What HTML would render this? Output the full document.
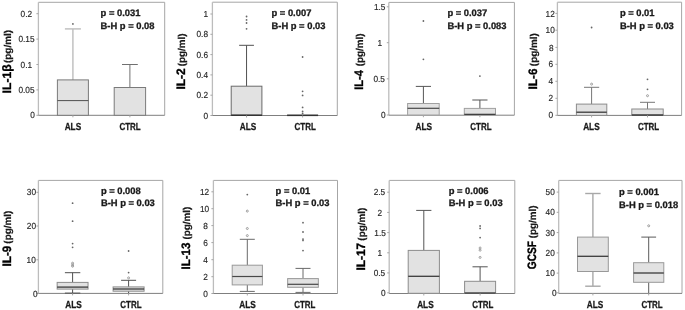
<!DOCTYPE html>
<html><head><meta charset="utf-8"><style>
html,body{margin:0;padding:0;background:#fff;-webkit-font-smoothing:antialiased;}
body{width:685px;height:310px;overflow:hidden;}
svg{display:block;filter:grayscale(1) blur(0.3px);}
text{font-family:"Liberation Sans",sans-serif;fill:#1a1a1a;text-rendering:geometricPrecision;}
.tk{font-size:8.8px;fill:#262626;stroke:#262626;stroke-width:0.15px;}
.pv{font-size:9.4px;font-weight:bold;stroke:#1a1a1a;stroke-width:0.3px;}
.cat{font-size:10.2px;font-weight:bold;stroke:#1a1a1a;stroke-width:0.3px;}
.t1{font-size:12.2px;font-weight:bold;stroke:#000;stroke-width:0.35px;fill:#000;}
.t2{font-size:9.9px;font-weight:bold;stroke:#000;stroke-width:0.18px;}
</style></head><body>
<svg width="685" height="310" viewBox="0 0 685 310">
<rect width="685" height="310" fill="#fff"/>
<g><line x1="38.4" y1="2.3" x2="164.7" y2="2.3" stroke="#a6a6a6" stroke-width="1"/><line x1="164.7" y1="2.3" x2="164.7" y2="115.3" stroke="#a6a6a6" stroke-width="1"/><line x1="38.4" y1="2.3" x2="38.4" y2="115.3" stroke="#bcbcbc" stroke-width="1.3"/><line x1="36.4" y1="115.3" x2="38.4" y2="115.3" stroke="#a6a6a6" stroke-width="1"/><text transform="translate(30.2,118.45) scale(0.94,1)" class="tk">0</text><line x1="36.4" y1="89.9" x2="38.4" y2="89.9" stroke="#a6a6a6" stroke-width="1"/><text transform="translate(18.4,93.05) scale(0.94,1)" class="tk">0.05</text><line x1="36.4" y1="64.5" x2="38.4" y2="64.5" stroke="#a6a6a6" stroke-width="1"/><text transform="translate(20.6,67.65) scale(0.94,1)" class="tk">0.1</text><line x1="36.4" y1="39.1" x2="38.4" y2="39.1" stroke="#a6a6a6" stroke-width="1"/><text transform="translate(18.4,42.25) scale(0.94,1)" class="tk">0.15</text><line x1="36.4" y1="13.7" x2="38.4" y2="13.7" stroke="#a6a6a6" stroke-width="1"/><text transform="translate(20.6,16.85) scale(0.94,1)" class="tk">0.2</text><line x1="38.4" y1="115.3" x2="164.7" y2="115.3" stroke="#7f7f7f" stroke-width="1"/><line x1="72.9" y1="28.9" x2="72.9" y2="79.9" stroke="#bdbdbd" stroke-width="1.4"/><line x1="64.9" y1="28.9" x2="80.9" y2="28.9" stroke="#bdbdbd" stroke-width="1.4"/><rect x="57.4" y="79.9" width="31" height="35.4" fill="#e2e2e2" stroke="#7a7a7a" stroke-width="1"/><line x1="57.4" y1="100.6" x2="88.4" y2="100.6" stroke="#505050" stroke-width="1.0"/><circle cx="72.9" cy="23.9" r="0.9" fill="#666"/><line x1="72.9" y1="115.3" x2="72.9" y2="117.3" stroke="#a6a6a6" stroke-width="1"/><line x1="129.9" y1="64.5" x2="129.9" y2="87.5" stroke="#707070" stroke-width="1.0"/><line x1="122" y1="64.5" x2="137.8" y2="64.5" stroke="#707070" stroke-width="1.0"/><rect x="114.2" y="87.5" width="31.4" height="27.8" fill="#e2e2e2" stroke="#7a7a7a" stroke-width="1"/><line x1="129.9" y1="115.3" x2="129.9" y2="117.3" stroke="#a6a6a6" stroke-width="1"/><text transform="translate(72.9,130.25) scale(0.81,1)" class="cat" text-anchor="middle">ALS</text><text transform="translate(130,130.25) scale(0.78,1)" class="cat" text-anchor="middle">CTRL</text><text x="100.6" y="15.8" class="pv">p = 0.031</text><text x="100.6" y="28.8" class="pv">B-H p = 0.08</text><text transform="translate(11.2,93.44) rotate(-90) scale(1.0,1)" class="t1">IL-1β</text><text transform="translate(11.2,62.95) rotate(-90)" class="t2">(pg/ml)</text></g>
<g><line x1="212.4" y1="2.2" x2="337.3" y2="2.2" stroke="#a6a6a6" stroke-width="1"/><line x1="337.3" y1="2.2" x2="337.3" y2="115.5" stroke="#a6a6a6" stroke-width="1"/><line x1="212.4" y1="2.2" x2="212.4" y2="115.5" stroke="#bcbcbc" stroke-width="1.3"/><line x1="210.4" y1="115.5" x2="212.4" y2="115.5" stroke="#a6a6a6" stroke-width="1"/><text transform="translate(208,118.65) scale(0.94,1)" class="tk" text-anchor="end">0</text><line x1="210.4" y1="95.2" x2="212.4" y2="95.2" stroke="#a6a6a6" stroke-width="1"/><text transform="translate(208,98.35) scale(0.94,1)" class="tk" text-anchor="end">0.2</text><line x1="210.4" y1="74.9" x2="212.4" y2="74.9" stroke="#a6a6a6" stroke-width="1"/><text transform="translate(208,78.05) scale(0.94,1)" class="tk" text-anchor="end">0.4</text><line x1="210.4" y1="54.6" x2="212.4" y2="54.6" stroke="#a6a6a6" stroke-width="1"/><text transform="translate(208,57.75) scale(0.94,1)" class="tk" text-anchor="end">0.6</text><line x1="210.4" y1="34.3" x2="212.4" y2="34.3" stroke="#a6a6a6" stroke-width="1"/><text transform="translate(208,37.45) scale(0.94,1)" class="tk" text-anchor="end">0.8</text><line x1="210.4" y1="14" x2="212.4" y2="14" stroke="#a6a6a6" stroke-width="1"/><text transform="translate(208,17.15) scale(0.94,1)" class="tk" text-anchor="end">1</text><line x1="212.4" y1="115.5" x2="337.3" y2="115.5" stroke="#7f7f7f" stroke-width="1"/><line x1="246.55" y1="45.3" x2="246.55" y2="86.2" stroke="#505050" stroke-width="1.0"/><line x1="239.15" y1="45.3" x2="253.95" y2="45.3" stroke="#505050" stroke-width="1.0"/><rect x="231.2" y="86.2" width="30.7" height="29.3" fill="#e2e2e2" stroke="#6a6a6a" stroke-width="1"/><line x1="231.2" y1="115.2" x2="261.9" y2="115.2" stroke="#333" stroke-width="1.6"/><circle cx="246.55" cy="16.5" r="0.9" fill="#666"/><circle cx="246.55" cy="19.9" r="0.9" fill="#666"/><circle cx="246.55" cy="23" r="0.9" fill="#666"/><circle cx="246.55" cy="28.8" r="0.9" fill="#666"/><line x1="246.55" y1="115.5" x2="246.55" y2="117.5" stroke="#a6a6a6" stroke-width="1"/><line x1="287.1" y1="115.3" x2="318.1" y2="115.3" stroke="#333" stroke-width="1.6"/><circle cx="302.6" cy="57" r="0.9" fill="#666"/><circle cx="302.6" cy="91.3" r="0.9" fill="#666"/><circle cx="302.6" cy="95.4" r="0.9" fill="#666"/><circle cx="302.6" cy="107.4" r="0.9" fill="#666"/><circle cx="302.6" cy="111.4" r="0.9" fill="#666"/><circle cx="302.6" cy="113.4" r="0.9" fill="#666"/><line x1="302.6" y1="115.5" x2="302.6" y2="117.5" stroke="#a6a6a6" stroke-width="1"/><text transform="translate(248.1,130.25) scale(0.81,1)" class="cat" text-anchor="middle">ALS</text><text transform="translate(305.2,130.25) scale(0.78,1)" class="cat" text-anchor="middle">CTRL</text><text x="271.5" y="15.8" class="pv">p = 0.007</text><text x="271.5" y="28.5" class="pv">B-H p = 0.03</text><text transform="translate(184.9,89.52) rotate(-90) scale(0.979,1)" class="t1">IL-2</text><text transform="translate(184.9,66.34) rotate(-90)" class="t2">(pg/ml)</text></g>
<g><line x1="388.8" y1="2.4" x2="514.4" y2="2.4" stroke="#a6a6a6" stroke-width="1"/><line x1="514.4" y1="2.4" x2="514.4" y2="115.2" stroke="#a6a6a6" stroke-width="1"/><line x1="388.8" y1="2.4" x2="388.8" y2="115.2" stroke="#bcbcbc" stroke-width="1.3"/><line x1="386.8" y1="115" x2="388.8" y2="115" stroke="#a6a6a6" stroke-width="1"/><text transform="translate(381.1,118.15) scale(0.94,1)" class="tk">0</text><line x1="386.8" y1="78.8" x2="388.8" y2="78.8" stroke="#a6a6a6" stroke-width="1"/><text transform="translate(373.4,81.95) scale(0.94,1)" class="tk">0.5</text><line x1="386.8" y1="42.7" x2="388.8" y2="42.7" stroke="#a6a6a6" stroke-width="1"/><text transform="translate(377.6,45.85) scale(0.94,1)" class="tk">1</text><line x1="386.8" y1="6.8" x2="388.8" y2="6.8" stroke="#a6a6a6" stroke-width="1"/><text transform="translate(373.9,9.95) scale(0.94,1)" class="tk">1.5</text><line x1="388.8" y1="115.2" x2="514.4" y2="115.2" stroke="#7f7f7f" stroke-width="1"/><line x1="423.4" y1="86.4" x2="423.4" y2="103.5" stroke="#555555" stroke-width="1.0"/><line x1="415.8" y1="86.4" x2="431" y2="86.4" stroke="#555555" stroke-width="1.0"/><rect x="407.6" y="103.5" width="31.6" height="11.5" fill="#e2e2e2" stroke="#a0a0a0" stroke-width="1"/><line x1="407.6" y1="108.3" x2="439.2" y2="108.3" stroke="#2a2a2a" stroke-width="1.1"/><circle cx="423.4" cy="59.3" r="0.9" fill="#666"/><circle cx="423.4" cy="21" r="0.9" fill="#666"/><line x1="423.4" y1="115.2" x2="423.4" y2="117.2" stroke="#a6a6a6" stroke-width="1"/><line x1="479.9" y1="100" x2="479.9" y2="108.4" stroke="#555555" stroke-width="1.0"/><line x1="472.3" y1="100" x2="487.5" y2="100" stroke="#555555" stroke-width="1.0"/><rect x="464.3" y="108.4" width="31.2" height="6.6" fill="#e2e2e2" stroke="#a0a0a0" stroke-width="1"/><line x1="464.3" y1="114.3" x2="495.5" y2="114.3" stroke="#2a2a2a" stroke-width="1.1"/><circle cx="479.9" cy="76.1" r="0.9" fill="#666"/><line x1="479.9" y1="115.2" x2="479.9" y2="117.2" stroke="#a6a6a6" stroke-width="1"/><text transform="translate(423.7,130.25) scale(0.81,1)" class="cat" text-anchor="middle">ALS</text><text transform="translate(480.9,130.25) scale(0.78,1)" class="cat" text-anchor="middle">CTRL</text><text x="447.4" y="15.8" class="pv">p = 0.037</text><text x="447.4" y="28.5" class="pv">B-H p = 0.083</text><text transform="translate(363,89.77) rotate(-90) scale(0.911,1)" class="t1">IL-4</text><text transform="translate(363,66.35) rotate(-90)" class="t2">(pg/ml)</text></g>
<g><line x1="557.4" y1="2.2" x2="681.6" y2="2.2" stroke="#a6a6a6" stroke-width="1"/><line x1="681.6" y1="2.2" x2="681.6" y2="115.4" stroke="#a6a6a6" stroke-width="1"/><line x1="557.4" y1="2.2" x2="557.4" y2="115.4" stroke="#bcbcbc" stroke-width="1.3"/><line x1="555.4" y1="115.3" x2="557.4" y2="115.3" stroke="#a6a6a6" stroke-width="1"/><text transform="translate(548.6,118.45) scale(0.94,1)" class="tk">0</text><line x1="555.4" y1="98.3" x2="557.4" y2="98.3" stroke="#a6a6a6" stroke-width="1"/><text transform="translate(548.6,101.45) scale(0.94,1)" class="tk">2</text><line x1="555.4" y1="81.3" x2="557.4" y2="81.3" stroke="#a6a6a6" stroke-width="1"/><text transform="translate(548.6,84.45) scale(0.94,1)" class="tk">4</text><line x1="555.4" y1="64.3" x2="557.4" y2="64.3" stroke="#a6a6a6" stroke-width="1"/><text transform="translate(548.6,67.45) scale(0.94,1)" class="tk">6</text><line x1="555.4" y1="47.4" x2="557.4" y2="47.4" stroke="#a6a6a6" stroke-width="1"/><text transform="translate(548.9,50.55) scale(0.94,1)" class="tk">8</text><line x1="555.4" y1="30.2" x2="557.4" y2="30.2" stroke="#a6a6a6" stroke-width="1"/><text transform="translate(545.6,33.35) scale(0.94,1)" class="tk">10</text><line x1="555.4" y1="13.4" x2="557.4" y2="13.4" stroke="#a6a6a6" stroke-width="1"/><text transform="translate(545.6,16.55) scale(0.94,1)" class="tk">12</text><line x1="557.4" y1="115.4" x2="681.6" y2="115.4" stroke="#7f7f7f" stroke-width="1"/><line x1="591.6" y1="87.3" x2="591.6" y2="104.1" stroke="#777777" stroke-width="1.0"/><line x1="584" y1="87.3" x2="599.2" y2="87.3" stroke="#777777" stroke-width="1.0"/><rect x="576.4" y="104.1" width="30.4" height="11.3" fill="#e2e2e2" stroke="#8c8c8c" stroke-width="1"/><line x1="576.4" y1="112.2" x2="606.8" y2="112.2" stroke="#3a3a3a" stroke-width="1.3"/><circle cx="591.6" cy="84.1" r="1.0" fill="none" stroke="#8f8f8f" stroke-width="0.85"/><circle cx="591.6" cy="27.5" r="0.9" fill="#666"/><line x1="591.6" y1="115.4" x2="591.6" y2="117.4" stroke="#a6a6a6" stroke-width="1"/><line x1="647.5" y1="102.3" x2="647.5" y2="109" stroke="#777777" stroke-width="1.0"/><line x1="640" y1="102.3" x2="655" y2="102.3" stroke="#777777" stroke-width="1.0"/><rect x="631.8" y="109" width="31.4" height="6.4" fill="#e2e2e2" stroke="#8c8c8c" stroke-width="1"/><line x1="631.8" y1="115" x2="663.2" y2="115" stroke="#3a3a3a" stroke-width="1.3"/><circle cx="647.5" cy="95.7" r="1.0" fill="none" stroke="#8f8f8f" stroke-width="0.85"/><circle cx="647.5" cy="89.3" r="0.9" fill="#666"/><circle cx="647.5" cy="79.3" r="0.9" fill="#666"/><line x1="647.5" y1="115.4" x2="647.5" y2="117.4" stroke="#a6a6a6" stroke-width="1"/><text transform="translate(591.4,130.25) scale(0.81,1)" class="cat" text-anchor="middle">ALS</text><text transform="translate(648.6,130.25) scale(0.78,1)" class="cat" text-anchor="middle">CTRL</text><text x="619.9" y="15.8" class="pv">p = 0.01</text><text x="619.9" y="28.5" class="pv">B-H p = 0.03</text><text transform="translate(536.5,89.41) rotate(-90) scale(0.962,1)" class="t1">IL-6</text><text transform="translate(536.5,66.14) rotate(-90)" class="t2">(pg/ml)</text></g>
<g><line x1="38.4" y1="180.4" x2="162.8" y2="180.4" stroke="#a6a6a6" stroke-width="1"/><line x1="162.8" y1="180.4" x2="162.8" y2="293.4" stroke="#a6a6a6" stroke-width="1"/><line x1="38.4" y1="180.4" x2="38.4" y2="293.4" stroke="#bcbcbc" stroke-width="1.3"/><line x1="36.4" y1="293.4" x2="38.4" y2="293.4" stroke="#a6a6a6" stroke-width="1"/><text transform="translate(32.9,296.55) scale(0.94,1)" class="tk">0</text><line x1="36.4" y1="259.8" x2="38.4" y2="259.8" stroke="#a6a6a6" stroke-width="1"/><text transform="translate(26.6,262.95) scale(0.94,1)" class="tk">10</text><line x1="36.4" y1="226" x2="38.4" y2="226" stroke="#a6a6a6" stroke-width="1"/><text transform="translate(26.8,229.15) scale(0.94,1)" class="tk">20</text><line x1="36.4" y1="192.3" x2="38.4" y2="192.3" stroke="#a6a6a6" stroke-width="1"/><text transform="translate(26.8,195.45) scale(0.94,1)" class="tk">30</text><line x1="38.4" y1="293.4" x2="162.8" y2="293.4" stroke="#7f7f7f" stroke-width="1"/><line x1="72.6" y1="272.7" x2="72.6" y2="282.4" stroke="#505050" stroke-width="1.0"/><line x1="64.9" y1="272.7" x2="80.3" y2="272.7" stroke="#505050" stroke-width="1.0"/><line x1="72.6" y1="289.1" x2="72.6" y2="293.1" stroke="#505050" stroke-width="1.0"/><line x1="64.9" y1="293.1" x2="80.3" y2="293.1" stroke="#505050" stroke-width="1.0"/><rect x="57.15" y="282.4" width="30.9" height="6.7" fill="#e2e2e2" stroke="#8c8c8c" stroke-width="1"/><line x1="57.15" y1="287.1" x2="88.05" y2="287.1" stroke="#3a3a3a" stroke-width="1.3"/><circle cx="72.6" cy="203.2" r="0.9" fill="#666"/><circle cx="72.6" cy="221.2" r="0.9" fill="#666"/><circle cx="72.6" cy="243.6" r="0.9" fill="#666"/><circle cx="72.6" cy="247.3" r="0.9" fill="#666"/><circle cx="72.6" cy="263.2" r="1.0" fill="none" stroke="#8f8f8f" stroke-width="0.85"/><circle cx="72.6" cy="265" r="1.0" fill="none" stroke="#8f8f8f" stroke-width="0.85"/><circle cx="72.6" cy="266.2" r="1.0" fill="none" stroke="#8f8f8f" stroke-width="0.85"/><line x1="72.6" y1="293.4" x2="72.6" y2="295.4" stroke="#a6a6a6" stroke-width="1"/><line x1="128.6" y1="280.3" x2="128.6" y2="286.9" stroke="#505050" stroke-width="1.0"/><line x1="121.1" y1="280.3" x2="136.1" y2="280.3" stroke="#505050" stroke-width="1.0"/><line x1="128.6" y1="291.2" x2="128.6" y2="293.4" stroke="#505050" stroke-width="1.0"/><rect x="113.1" y="286.9" width="31" height="4.3" fill="#e2e2e2" stroke="#8c8c8c" stroke-width="1"/><line x1="113.1" y1="289" x2="144.1" y2="289" stroke="#3a3a3a" stroke-width="1.3"/><circle cx="128.6" cy="251" r="0.9" fill="#666"/><circle cx="128.6" cy="272.6" r="0.9" fill="#666"/><circle cx="128.6" cy="277.9" r="1.0" fill="none" stroke="#8f8f8f" stroke-width="0.85"/><line x1="128.6" y1="293.4" x2="128.6" y2="295.4" stroke="#a6a6a6" stroke-width="1"/><text transform="translate(73.55,308.3) scale(0.81,1)" class="cat" text-anchor="middle">ALS</text><text transform="translate(130.9,308.3) scale(0.78,1)" class="cat" text-anchor="middle">CTRL</text><text x="100.9" y="193.8" class="pv">p = 0.008</text><text x="100.9" y="206.4" class="pv">B-H p = 0.03</text><text transform="translate(10.95,266.41) rotate(-90) scale(0.957,1)" class="t1">IL-9</text><text transform="translate(10.95,243.65) rotate(-90)" class="t2">(pg/ml)</text></g>
<g><line x1="213.4" y1="180.4" x2="337.5" y2="180.4" stroke="#a6a6a6" stroke-width="1"/><line x1="337.5" y1="180.4" x2="337.5" y2="293.5" stroke="#a6a6a6" stroke-width="1"/><line x1="213.4" y1="180.4" x2="213.4" y2="293.5" stroke="#bcbcbc" stroke-width="1.3"/><line x1="211.4" y1="293.5" x2="213.4" y2="293.5" stroke="#a6a6a6" stroke-width="1"/><text transform="translate(203.2,296.65) scale(0.94,1)" class="tk">0</text><line x1="211.4" y1="276.7" x2="213.4" y2="276.7" stroke="#a6a6a6" stroke-width="1"/><text transform="translate(203.2,279.85) scale(0.94,1)" class="tk">2</text><line x1="211.4" y1="259.7" x2="213.4" y2="259.7" stroke="#a6a6a6" stroke-width="1"/><text transform="translate(203.2,262.85) scale(0.94,1)" class="tk">4</text><line x1="211.4" y1="242.6" x2="213.4" y2="242.6" stroke="#a6a6a6" stroke-width="1"/><text transform="translate(203.2,245.75) scale(0.94,1)" class="tk">6</text><line x1="211.4" y1="225.6" x2="213.4" y2="225.6" stroke="#a6a6a6" stroke-width="1"/><text transform="translate(203.2,228.75) scale(0.94,1)" class="tk">8</text><line x1="211.4" y1="208.7" x2="213.4" y2="208.7" stroke="#a6a6a6" stroke-width="1"/><text transform="translate(200,211.85) scale(0.94,1)" class="tk">10</text><line x1="211.4" y1="191.8" x2="213.4" y2="191.8" stroke="#a6a6a6" stroke-width="1"/><text transform="translate(200,194.95) scale(0.94,1)" class="tk">12</text><line x1="213.4" y1="293.5" x2="337.5" y2="293.5" stroke="#7f7f7f" stroke-width="1"/><line x1="247.3" y1="239.3" x2="247.3" y2="265.2" stroke="#6a6a6a" stroke-width="1.0"/><line x1="239.8" y1="239.3" x2="254.8" y2="239.3" stroke="#6a6a6a" stroke-width="1.0"/><line x1="247.3" y1="284.9" x2="247.3" y2="291.4" stroke="#6a6a6a" stroke-width="1.0"/><line x1="239.8" y1="291.4" x2="254.8" y2="291.4" stroke="#6a6a6a" stroke-width="1.0"/><rect x="232.2" y="265.2" width="30.2" height="19.7" fill="#e2e2e2" stroke="#999999" stroke-width="1"/><line x1="232.2" y1="276.5" x2="262.4" y2="276.5" stroke="#484848" stroke-width="1.2"/><circle cx="247.3" cy="194.6" r="0.9" fill="#666"/><circle cx="247.3" cy="211.1" r="1.0" fill="none" stroke="#8f8f8f" stroke-width="0.85"/><circle cx="247.3" cy="228.5" r="1.0" fill="none" stroke="#8f8f8f" stroke-width="0.85"/><circle cx="247.3" cy="235.6" r="1.0" fill="none" stroke="#8f8f8f" stroke-width="0.85"/><line x1="247.3" y1="293.5" x2="247.3" y2="295.5" stroke="#a6a6a6" stroke-width="1"/><line x1="303" y1="268.4" x2="303" y2="278.6" stroke="#6a6a6a" stroke-width="1.0"/><line x1="295.5" y1="268.4" x2="310.5" y2="268.4" stroke="#6a6a6a" stroke-width="1.0"/><line x1="303" y1="287.3" x2="303" y2="292.4" stroke="#6a6a6a" stroke-width="1.0"/><line x1="295.5" y1="292.4" x2="310.5" y2="292.4" stroke="#6a6a6a" stroke-width="1.0"/><rect x="287.65" y="278.6" width="30.7" height="8.7" fill="#e2e2e2" stroke="#999999" stroke-width="1"/><line x1="287.65" y1="284.3" x2="318.35" y2="284.3" stroke="#484848" stroke-width="1.2"/><circle cx="303" cy="222.7" r="0.9" fill="#666"/><circle cx="303" cy="232" r="0.9" fill="#666"/><circle cx="303" cy="239.1" r="0.9" fill="#666"/><circle cx="303" cy="240.4" r="0.9" fill="#666"/><circle cx="303" cy="250.6" r="0.9" fill="#666"/><line x1="303" y1="293.5" x2="303" y2="295.5" stroke="#a6a6a6" stroke-width="1"/><text transform="translate(247.6,308.3) scale(0.81,1)" class="cat" text-anchor="middle">ALS</text><text transform="translate(304.8,308.3) scale(0.78,1)" class="cat" text-anchor="middle">CTRL</text><text x="275.6" y="193.8" class="pv">p = 0.01</text><text x="275.6" y="206.4" class="pv">B-H p = 0.03</text><text transform="translate(190.25,269.49) rotate(-90) scale(0.942,1)" class="t1">IL-13</text><text transform="translate(190.25,239.54) rotate(-90)" class="t2">(pg/ml)</text></g>
<g><line x1="389.2" y1="180.4" x2="514.8" y2="180.4" stroke="#a6a6a6" stroke-width="1"/><line x1="514.8" y1="180.4" x2="514.8" y2="293.5" stroke="#a6a6a6" stroke-width="1"/><line x1="389.2" y1="180.4" x2="389.2" y2="293.5" stroke="#bcbcbc" stroke-width="1.3"/><line x1="387.2" y1="292.8" x2="389.2" y2="292.8" stroke="#a6a6a6" stroke-width="1"/><text transform="translate(380.9,295.95) scale(0.94,1)" class="tk">0</text><line x1="387.2" y1="272.9" x2="389.2" y2="272.9" stroke="#a6a6a6" stroke-width="1"/><text transform="translate(373.7,276.05) scale(0.94,1)" class="tk">0.5</text><line x1="387.2" y1="252.8" x2="389.2" y2="252.8" stroke="#a6a6a6" stroke-width="1"/><text transform="translate(377.6,255.95) scale(0.94,1)" class="tk">1</text><line x1="387.2" y1="232.6" x2="389.2" y2="232.6" stroke="#a6a6a6" stroke-width="1"/><text transform="translate(374.3,235.75) scale(0.94,1)" class="tk">1.5</text><line x1="387.2" y1="212.4" x2="389.2" y2="212.4" stroke="#a6a6a6" stroke-width="1"/><text transform="translate(377.6,215.55) scale(0.94,1)" class="tk">2</text><line x1="387.2" y1="192.2" x2="389.2" y2="192.2" stroke="#a6a6a6" stroke-width="1"/><text transform="translate(373.7,195.35) scale(0.94,1)" class="tk">2.5</text><line x1="389.2" y1="293.5" x2="514.8" y2="293.5" stroke="#7f7f7f" stroke-width="1"/><line x1="423.8" y1="210.4" x2="423.8" y2="250.4" stroke="#555555" stroke-width="1.0"/><line x1="416.2" y1="210.4" x2="431.4" y2="210.4" stroke="#555555" stroke-width="1.0"/><rect x="408.2" y="250.4" width="31.2" height="42.9" fill="#e2e2e2" stroke="#8c8c8c" stroke-width="1"/><line x1="408.2" y1="276.3" x2="439.4" y2="276.3" stroke="#3a3a3a" stroke-width="1.3"/><line x1="423.8" y1="293.5" x2="423.8" y2="295.5" stroke="#a6a6a6" stroke-width="1"/><line x1="480.1" y1="266.8" x2="480.1" y2="281.3" stroke="#555555" stroke-width="1.0"/><line x1="472.5" y1="266.8" x2="487.7" y2="266.8" stroke="#555555" stroke-width="1.0"/><rect x="464.6" y="281.3" width="31" height="12" fill="#e2e2e2" stroke="#8c8c8c" stroke-width="1"/><line x1="464.6" y1="293" x2="495.6" y2="293" stroke="#3a3a3a" stroke-width="1.3"/><circle cx="480.1" cy="226" r="0.9" fill="#666"/><circle cx="480.1" cy="228.4" r="0.9" fill="#666"/><circle cx="480.1" cy="237.6" r="0.9" fill="#666"/><circle cx="480.1" cy="248" r="1.0" fill="none" stroke="#8f8f8f" stroke-width="0.85"/><circle cx="480.1" cy="250.2" r="1.0" fill="none" stroke="#8f8f8f" stroke-width="0.85"/><circle cx="480.1" cy="257.4" r="1.0" fill="none" stroke="#8f8f8f" stroke-width="0.85"/><line x1="480.1" y1="293.5" x2="480.1" y2="295.5" stroke="#a6a6a6" stroke-width="1"/><text transform="translate(425.4,308.3) scale(0.81,1)" class="cat" text-anchor="middle">ALS</text><text transform="translate(482.8,308.3) scale(0.78,1)" class="cat" text-anchor="middle">CTRL</text><text x="448.7" y="193.8" class="pv">p = 0.006</text><text x="448.7" y="206.4" class="pv">B-H p = 0.03</text><text transform="translate(365.1,270.52) rotate(-90) scale(0.975,1)" class="t1">IL-17</text><text transform="translate(365.1,240.64) rotate(-90)" class="t2">(pg/ml)</text></g>
<g><line x1="558.7" y1="180.4" x2="682" y2="180.4" stroke="#a6a6a6" stroke-width="1"/><line x1="682" y1="180.4" x2="682" y2="293.4" stroke="#a6a6a6" stroke-width="1"/><line x1="558.7" y1="180.4" x2="558.7" y2="293.4" stroke="#bcbcbc" stroke-width="1.3"/><line x1="556.7" y1="292.8" x2="558.7" y2="292.8" stroke="#a6a6a6" stroke-width="1"/><text transform="translate(552,295.95) scale(0.94,1)" class="tk">0</text><line x1="556.7" y1="273.1" x2="558.7" y2="273.1" stroke="#a6a6a6" stroke-width="1"/><text transform="translate(545.6,276.25) scale(0.94,1)" class="tk">10</text><line x1="556.7" y1="252.9" x2="558.7" y2="252.9" stroke="#a6a6a6" stroke-width="1"/><text transform="translate(545.6,256.05) scale(0.94,1)" class="tk">20</text><line x1="556.7" y1="232.6" x2="558.7" y2="232.6" stroke="#a6a6a6" stroke-width="1"/><text transform="translate(545.6,235.75) scale(0.94,1)" class="tk">30</text><line x1="556.7" y1="212.3" x2="558.7" y2="212.3" stroke="#a6a6a6" stroke-width="1"/><text transform="translate(545.6,215.45) scale(0.94,1)" class="tk">40</text><line x1="556.7" y1="192.1" x2="558.7" y2="192.1" stroke="#a6a6a6" stroke-width="1"/><text transform="translate(545.6,195.25) scale(0.94,1)" class="tk">50</text><line x1="558.7" y1="293.4" x2="682" y2="293.4" stroke="#7f7f7f" stroke-width="1"/><line x1="592.9" y1="193.5" x2="592.9" y2="237.1" stroke="#a8a8a8" stroke-width="1.4"/><line x1="585.2" y1="193.5" x2="600.6" y2="193.5" stroke="#a8a8a8" stroke-width="1.4"/><line x1="592.9" y1="271.5" x2="592.9" y2="286.2" stroke="#a8a8a8" stroke-width="1.4"/><line x1="585.2" y1="286.2" x2="600.6" y2="286.2" stroke="#a8a8a8" stroke-width="1.4"/><rect x="577.5" y="237.1" width="30.8" height="34.4" fill="#e2e2e2" stroke="#999999" stroke-width="1"/><line x1="577.5" y1="256.3" x2="608.3" y2="256.3" stroke="#3a3a3a" stroke-width="1.3"/><line x1="592.9" y1="293.4" x2="592.9" y2="295.4" stroke="#a6a6a6" stroke-width="1"/><line x1="648.7" y1="237.1" x2="648.7" y2="262.7" stroke="#5a5a5a" stroke-width="1.0"/><line x1="641.3" y1="237.1" x2="656.1" y2="237.1" stroke="#5a5a5a" stroke-width="1.0"/><line x1="648.7" y1="282.3" x2="648.7" y2="293.4" stroke="#5a5a5a" stroke-width="1.0"/><rect x="633.6" y="262.7" width="30.2" height="19.6" fill="#e2e2e2" stroke="#999999" stroke-width="1"/><line x1="633.6" y1="273" x2="663.8" y2="273" stroke="#3a3a3a" stroke-width="1.3"/><circle cx="648.7" cy="225.8" r="1.0" fill="none" stroke="#8f8f8f" stroke-width="0.85"/><line x1="648.7" y1="293.4" x2="648.7" y2="295.4" stroke="#a6a6a6" stroke-width="1"/><text transform="translate(595,308.3) scale(0.81,1)" class="cat" text-anchor="middle">ALS</text><text transform="translate(652,308.3) scale(0.78,1)" class="cat" text-anchor="middle">CTRL</text><text x="619" y="195.4" class="pv">p = 0.001</text><text x="619" y="208.2" class="pv">B-H p = 0.018</text><text transform="translate(536.3,269.24) rotate(-90) scale(0.833,1)" class="t1">GCSF</text><text transform="translate(536.3,238.34) rotate(-90)" class="t2">(pg/ml)</text></g>
</svg>
</body></html>
